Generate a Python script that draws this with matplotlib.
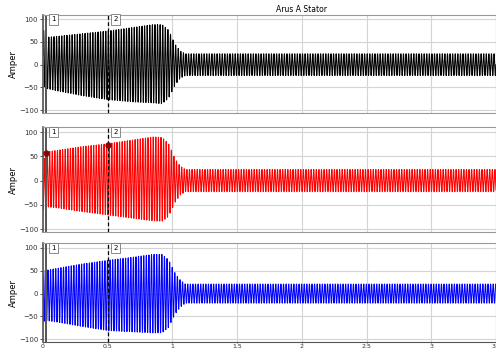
import numpy as np
import matplotlib
matplotlib.use("Agg")
import matplotlib.pyplot as plt

# envelope key points (time in s, current in A)
env_t = [0, 0.02, 0.1, 0.3, 0.5, 0.7, 0.85, 0.92, 0.97, 1.02, 1.06, 1.1, 3.5]

a_hi = [80, 60, 62, 68, 74, 82, 88, 88, 76, 45, 30, 24, 24]
a_lo = [-40, -52, -57, -68, -77, -82, -84, -86, -74, -45, -30, -24, -24]

b_hi = [26, 59, 62, 70, 76, 84, 90, 89, 76, 45, 30, 23, 23]
b_lo = [-61, -54, -56, -64, -71, -78, -83, -84, -74, -45, -30, -23, -23]

c_hi = [50, 51, 55, 65, 73, 80, 86, 86, 74, 45, 30, 21, 21]
c_lo = [-62, -59, -62, -72, -81, -84, -86, -86, -74, -45, -30, -21, -21]

freq = 50
phase = [0.0, -2 * np.pi / 3, 2 * np.pi / 3]
colors = ["black", "red", "blue"]

cursor_x = [0.02, 0.5]
cursor_lbl = ["1", "2"]
dot_y = [57, 74]

xticks = [0, 0.5, 1, 1.5, 2, 2.5, 3, 3.5]
xtick_lbl = ["0", "0.5", "1", "1.5", "2", "2.5", "3", "3.5"]
yticks = [100, 50, 0, -50, -100]


def wave(hi, lo, ph):
    t = np.linspace(0, 3.5, 30001)
    up = np.interp(t, env_t, hi)
    dn = np.interp(t, env_t, lo)
    amp = (up - dn) / 2
    mid = (up + dn) / 2
    return t, mid + amp * np.sin(2 * np.pi * freq * t + ph)


fig = plt.figure(figsize=(4.96, 3.53), dpi=100)
left = 43 / 496
rows = [(0.679, 0.2796, (-107, 110)),
        (0.3416, 0.298, (-107, 110)),
        (0.0300, 0.2804, (-107, 110))]
series = [(a_hi, a_lo), (b_hi, b_lo), (c_hi, c_lo)]

for k, (b, h, yl) in enumerate(rows):
    ax = fig.add_axes([left, b, 1 - left, h])
    hi, lo = series[k]
    t, y = wave(hi, lo, phase[k])
    ax.plot(t, y, color=colors[k], lw=0.75)
    ax.set_xlim(0, 3.5)
    ax.set_ylim(*yl)
    ax.set_xticks(xticks)
    ax.set_yticks(yticks)
    ax.grid(True, color="#d4d4d4", lw=0.8)
    ax.set_axisbelow(True)
    ax.tick_params(labelsize=5, length=2, width=0.6, pad=1.5, colors="#333333")
    ax.set_ylabel("Amper", fontsize=6, labelpad=0.5)
    for s in ax.spines.values():
        s.set_color("#999999")
        s.set_linewidth(0.8)
    ax.spines["left"].set_color("#555555")
    ax.spines["left"].set_linewidth(1.2)
    if k < 2:
        ax.tick_params(axis="x", labelbottom=False, length=0)
    else:
        ax.spines["bottom"].set_color("#555555")
        ax.set_xticklabels(xtick_lbl)
        ax.tick_params(axis="x", length=1, pad=0.5, labelsize=4.5)

    ax.axvline(cursor_x[0], color="#555555", lw=1.4)
    ax.axvline(cursor_x[1], color="black", lw=0.9, ls=(0, (3, 2)))
    for cx, lbl in zip(cursor_x, cursor_lbl):
        ax.text(cx + 0.045, yl[1] - 4, lbl, fontsize=5, ha="left", va="top",
                bbox=dict(boxstyle="square,pad=0.3", fc="white", ec="#777777", lw=0.6))
    if k == 1:
        ax.plot(cursor_x, dot_y, "o", color="#8b0000", ms=3.5, zorder=5)

fig.text(302 / 496, 1 - 10 / 353, "Arus A Stator", fontsize=5.5, ha="center", va="center")

fig.savefig("out.png", dpi=100)
